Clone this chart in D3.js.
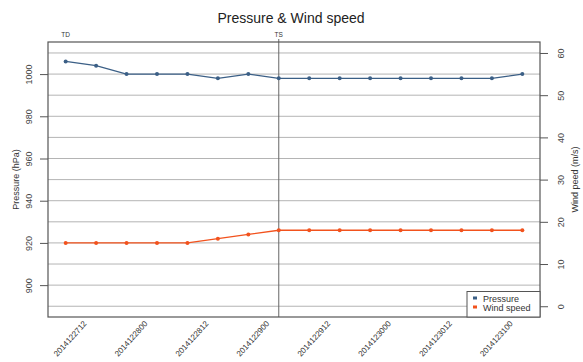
<!DOCTYPE html>
<html>
<head>
<meta charset="utf-8">
<script src="https://cdn.jsdelivr.net/npm/d3@7"></script>
<style>
  body { margin: 0; background: #fff; }
  svg { font-family: 'Liberation Sans', Arial, sans-serif; }
</style>
</head>
<body>
<div id="chart"></div>
<script>
const times = ['2014122706', '2014122712', '2014122718', '2014122800', '2014122806', '2014122812',
  '2014122818', '2014122900', '2014122906', '2014122912', '2014122918', '2014123000',
  '2014123006', '2014123012', '2014123018', '2014123100']
const pressure = [1006, 1004, 1000, 1000, 1000, 998, 1000, 998, 998, 998, 998, 998, 998, 998, 998, 1000]
const windSpeed = [15, 15, 15, 15, 15, 16, 17, 18, 18, 18, 18, 18, 18, 18, 18, 18]
const grades = [{ time: '2014122706', label: 'TD' }, { time: '2014122900', label: 'TS', line: true }]
const pressureTicks = [900, 920, 940, 960, 980, 1000]
const windTicks = [0, 10, 20, 30, 40, 50, 60]
const gridLevels = d3.range(890, 1011, 10)

const width = 583
const height = 362
const margin = { top: 42, right: 43, bottom: 45, left: 48 }
const blue = '#3b5f86'
const orange = '#f2521d'

const svg = d3.select('#chart')
  .append('svg')
  .attr('width', width)
  .attr('height', height)

const x = d3.scaleLinear()
  .domain([-0.58, times.length - 1 + 0.58])
  .range([margin.left, width - margin.right])

const yP = d3.scaleLinear()
  .domain([884.9, 1015.2])
  .range([height - margin.bottom, margin.top])

// wind axis shares the grid: 0 m/s at 890 hPa, 60 m/s at 1010 hPa
const yW = d3.scaleLinear()
  .domain([(884.9 - 890) / 2, (1015.2 - 890) / 2])
  .range([height - margin.bottom, margin.top])

// title
svg.append('text')
  .attr('x', 291)
  .attr('y', 23)
  .attr('text-anchor', 'middle')
  .attr('font-size', 14)
  .attr('fill', '#222')
  .text('Pressure & Wind speed')

// grid
svg.append('g')
  .selectAll('line')
  .data(gridLevels)
  .join('line')
  .attr('x1', margin.left)
  .attr('x2', width - margin.right)
  .attr('y1', d => yP(d))
  .attr('y2', d => yP(d))
  .attr('stroke', '#b4b4b4')
  .attr('stroke-width', 1)

// grade labels on top
grades.forEach(g => {
  const gx = x(times.indexOf(g.time))
  svg.append('text')
    .attr('x', gx)
    .attr('y', 37)
    .attr('text-anchor', 'middle')
    .attr('font-size', 6.5)
    .attr('fill', '#333')
    .text(g.label)
  if (g.line) {
    svg.append('line')
      .attr('x1', gx).attr('x2', gx)
      .attr('y1', 39).attr('y2', height - margin.bottom)
      .attr('stroke', '#666')
      .attr('stroke-width', 1)
  }
})

// left axis
const leftAxis = svg.append('g')
  .attr('transform', `translate(${margin.left},0)`)
  .call(d3.axisLeft(yP).tickValues(pressureTicks).tickFormat(d3.format('d')).tickSize(8))
leftAxis.select('.domain').remove()
leftAxis.selectAll('line').attr('stroke', '#555')
leftAxis.selectAll('.tick text')
  .attr('font-size', 9)
  .attr('fill', '#444')
  .attr('x', 0)
  .attr('y', 0)
  .attr('dy', '0.35em')
  .attr('text-anchor', 'middle')
  .attr('transform', 'translate(-19,0) rotate(-90)')

// right axis
const rightAxis = svg.append('g')
  .attr('transform', `translate(${width - margin.right},0)`)
  .call(d3.axisRight(yW).tickValues(windTicks).tickSize(8))
rightAxis.select('.domain').remove()
rightAxis.selectAll('line').attr('stroke', '#555')
rightAxis.selectAll('.tick text')
  .attr('font-size', 9)
  .attr('fill', '#444')
  .attr('x', 0)
  .attr('y', 0)
  .attr('dy', '0.35em')
  .attr('text-anchor', 'middle')
  .attr('transform', 'translate(21,0) rotate(-90)')

// axis titles
svg.append('text')
  .attr('transform', `translate(19, ${(margin.top + height - margin.bottom) / 2}) rotate(-90)`)
  .attr('text-anchor', 'middle')
  .attr('font-size', 9)
  .attr('fill', '#333')
  .text('Pressure (hPa)')

svg.append('text')
  .attr('transform', `translate(578, ${(margin.top + height - margin.bottom) / 2}) rotate(-90)`)
  .attr('text-anchor', 'middle')
  .attr('font-size', 9)
  .attr('fill', '#333')
  .text('Wind peed (m/s)')

// x labels, every 12 hours
svg.append('g')
  .selectAll('text')
  .data(times.map((t, i) => ({ t, i })).filter(d => d.i % 2 === 1))
  .join('text')
  .attr('transform', d => `translate(${x(d.i) - 9}, 324) rotate(-48)`)
  .attr('text-anchor', 'end')
  .attr('font-size', 8)
  .attr('fill', '#333')
  .text(d => d.t)

// series
const pressureLine = d3.line().x((d, i) => x(i)).y(d => yP(d))
const windLine = d3.line().x((d, i) => x(i)).y(d => yW(d))

svg.append('path')
  .datum(pressure)
  .attr('d', pressureLine)
  .attr('fill', 'none')
  .attr('stroke', blue)
  .attr('stroke-width', 1.3)

svg.append('g')
  .selectAll('circle')
  .data(pressure)
  .join('circle')
  .attr('cx', (d, i) => x(i))
  .attr('cy', d => yP(d))
  .attr('r', 2)
  .attr('fill', blue)

svg.append('path')
  .datum(windSpeed)
  .attr('d', windLine)
  .attr('fill', 'none')
  .attr('stroke', orange)
  .attr('stroke-width', 1.3)

svg.append('g')
  .selectAll('circle')
  .data(windSpeed)
  .join('circle')
  .attr('cx', (d, i) => x(i))
  .attr('cy', d => yW(d))
  .attr('r', 2)
  .attr('fill', orange)

// plot border
svg.append('rect')
  .attr('x', margin.left)
  .attr('y', margin.top)
  .attr('width', width - margin.left - margin.right)
  .attr('height', height - margin.top - margin.bottom)
  .attr('fill', 'none')
  .attr('stroke', '#555')
  .attr('stroke-width', 1.2)

// legend
const legend = svg.append('g')
  .attr('transform', `translate(${width - margin.right - 73}, ${height - margin.bottom - 25.5})`)
legend.append('rect')
  .attr('width', 73)
  .attr('height', 25.5)
  .attr('fill', '#fff')
  .attr('stroke', '#555')
  .attr('stroke-width', 1)
const legendItems = [{ name: 'Pressure', color: blue }, { name: 'Wind speed', color: orange }]
legendItems.forEach((d, i) => {
  legend.append('rect')
    .attr('x', 6)
    .attr('y', 7 + i * 9 - 2)
    .attr('width', 4)
    .attr('height', 3)
    .attr('fill', d.color)
  legend.append('text')
    .attr('x', 16)
    .attr('y', 7 + i * 9)
    .attr('dy', '0.35em')
    .attr('font-size', 9)
    .attr('fill', '#333')
    .text(d.name)
})
</script>
</body>
</html>
